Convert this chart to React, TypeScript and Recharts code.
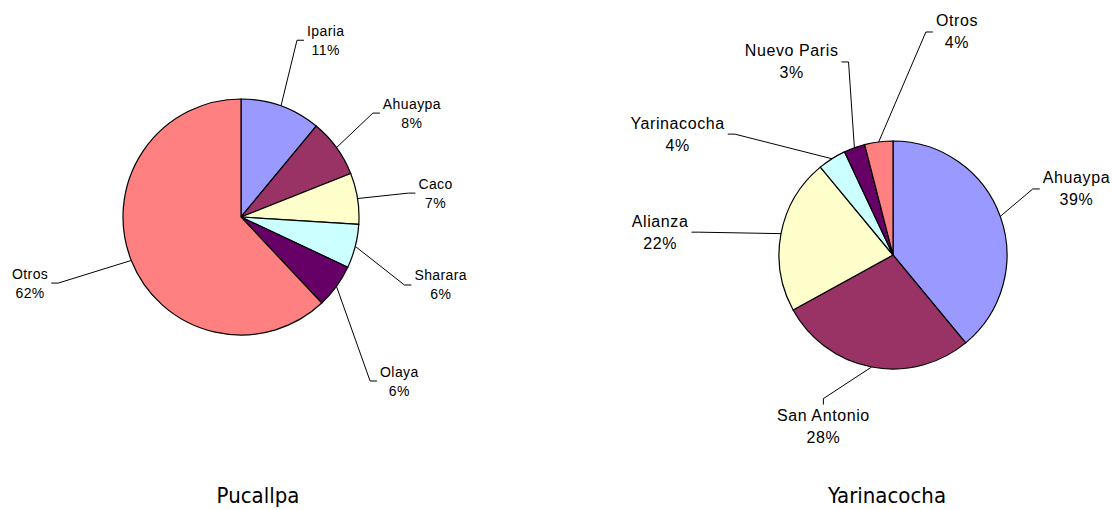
import React from 'react'
import { PieChart, Pie, Cell } from 'recharts'

const pucallpaNames = ['Iparia', 'Ahuaypa', 'Caco', 'Sharara', 'Olaya', 'Otros']
const pucallpaValues = [11, 8, 7, 6, 6, 62]

const yarinaNames = ['Ahuaypa', 'San Antonio', 'Alianza', 'Yarinacocha', 'Nuevo Paris', 'Otros']
const yarinaValues = [39, 28, 22, 4, 3, 4]

const pucallpaColors = ['#9999FF', '#993366', '#FFFFCC', '#CCFFFF', '#660066', '#FF8080']
const yarinaColors = ['#9999FF', '#993366', '#FFFFCC', '#CCFFFF', '#660066', '#FF8080']

const titles = ['Pucallpa', 'Yarinacocha']

// label placement: distance from centre and clockwise turn (deg) from the slice middle
const pucallpaLabelPos = [
  { dist: 196, turn: 5.8 },
  { dist: 200, turn: 4.7 },
  { dist: 196, turn: 2 },
  { dist: 211, turn: 4.4 },
  { dist: 228, turn: 10 },
  { dist: 221, turn: 4.2 },
]
const yarinaLabelPos = [
  { dist: 195, turn: 0 },
  { dist: 185, turn: 11.3 },
  { dist: 234, turn: -5.2 },
  { dist: 247, turn: -28.3 },
  { dist: 218, turn: -7.9 },
  { dist: 232, turn: 23.2 },
]

const toRows = (names: string[], values: number[]) => names.map((name, i) => ({ name, value: values[i] }))
const pucallpaData = toRows(pucallpaNames, pucallpaValues)
const yarinaData = toRows(yarinaNames, yarinaValues)

const LABEL_FONT = '"Liberation Sans", Arial, sans-serif'
const RAD = Math.PI / 180

let ctx: CanvasRenderingContext2D | null = null
const textWidth = (s: string, size: number, spacing: number) => {
  if (!ctx) ctx = document.createElement('canvas').getContext('2d')
  if (!ctx) return s.length * size * 0.55 + s.length * spacing
  ctx.font = `${size}px ${LABEL_FONT}`
  return ctx.measureText(s).width + s.length * spacing
}

const polar = (cx: number, cy: number, r: number, a: number) => ({
  x: cx + r * Math.cos(-a * RAD),
  y: cy + r * Math.sin(-a * RAD),
})

const makeLabel = (layout: { dist: number; turn: number }[], size: number, gap: number, spacing: number) =>
  (props: any) => {
    const { cx, cy, midAngle, outerRadius, index, name, value } = props
    const { dist, turn } = layout[index]
    const edge = polar(cx, cy, outerRadius, midAngle)
    const c = polar(cx, cy, dist, midAngle - turn)
    const line1 = name
    const line2 = `${value}%`
    const w = Math.max(textWidth(line1, size, spacing), textWidth(line2, size, spacing))
    let clock = (90 - (midAngle - turn)) % 360
    if (clock < 0) clock += 360
    let attach, elbow
    if (clock > 160 && clock < 220) {
      const top = c.y - gap / 2 - size * 0.55
      attach = { x: c.x, y: top - 2 }
      elbow = { x: c.x, y: top - 8 }
    } else if (c.x >= cx) {
      attach = { x: c.x - w / 2 - 3, y: c.y }
      elbow = { x: attach.x - 7, y: c.y }
    } else {
      attach = { x: c.x + w / 2 + 3, y: c.y }
      elbow = { x: attach.x + 7, y: c.y }
    }
    return (
      <g>
        <path
          d={`M${edge.x},${edge.y}L${elbow.x},${elbow.y}L${attach.x},${attach.y}`}
          stroke="#000"
          strokeWidth={1}
          fill="none"
        />
        <text
          x={c.x}
          y={c.y - gap / 2}
          textAnchor="middle"
          dominantBaseline="central"
          fontFamily={LABEL_FONT}
          fontSize={size}
          letterSpacing={spacing}
          fill="#000"
        >
          {line1}
        </text>
        <text
          x={c.x}
          y={c.y + gap / 2}
          textAnchor="middle"
          dominantBaseline="central"
          fontFamily={LABEL_FONT}
          fontSize={size}
          letterSpacing={spacing}
          fill="#000"
        >
          {line2}
        </text>
      </g>
    )
  }

const titleStyle: React.CSSProperties = {
  position: 'absolute',
  top: 482,
  width: 200,
  textAlign: 'center',
  fontFamily: '"DejaVu Sans Condensed", "Liberation Sans Narrow", "DejaVu Sans", sans-serif',
  fontStretch: 'condensed',
  fontSize: 22,
  lineHeight: '28px',
  color: '#000',
}

export default function App() {
  return (
    <div style={{ position: 'absolute', left: 0, top: 0, width: 1112, height: 510, background: '#fff' }}>
      <PieChart width={1112} height={510} margin={{ top: 0, right: 0, bottom: 0, left: 0 }}>
        <Pie
          data={pucallpaData}
          dataKey="value"
          nameKey="name"
          cx={241}
          cy={217}
          outerRadius={118}
          startAngle={90}
          endAngle={-270}
          stroke="#000"
          strokeWidth={1.2}
          label={makeLabel(pucallpaLabelPos, 14, 19, 0.4)}
          labelLine={false}
          isAnimationActive={false}
        >
          {pucallpaData.map((d, i) => (
            <Cell key={d.name} fill={pucallpaColors[i]} />
          ))}
        </Pie>
        <Pie
          data={yarinaData}
          dataKey="value"
          nameKey="name"
          cx={893}
          cy={255}
          outerRadius={114}
          startAngle={90}
          endAngle={-270}
          stroke="#000"
          strokeWidth={1.2}
          label={makeLabel(yarinaLabelPos, 16, 22, 0.6)}
          labelLine={false}
          isAnimationActive={false}
        >
          {yarinaData.map((d, i) => (
            <Cell key={d.name} fill={yarinaColors[i]} />
          ))}
        </Pie>
      </PieChart>
      <div style={{ ...titleStyle, left: 158 }}>{titles[0]}</div>
      <div style={{ ...titleStyle, left: 787 }}>{titles[1]}</div>
    </div>
  )
}
